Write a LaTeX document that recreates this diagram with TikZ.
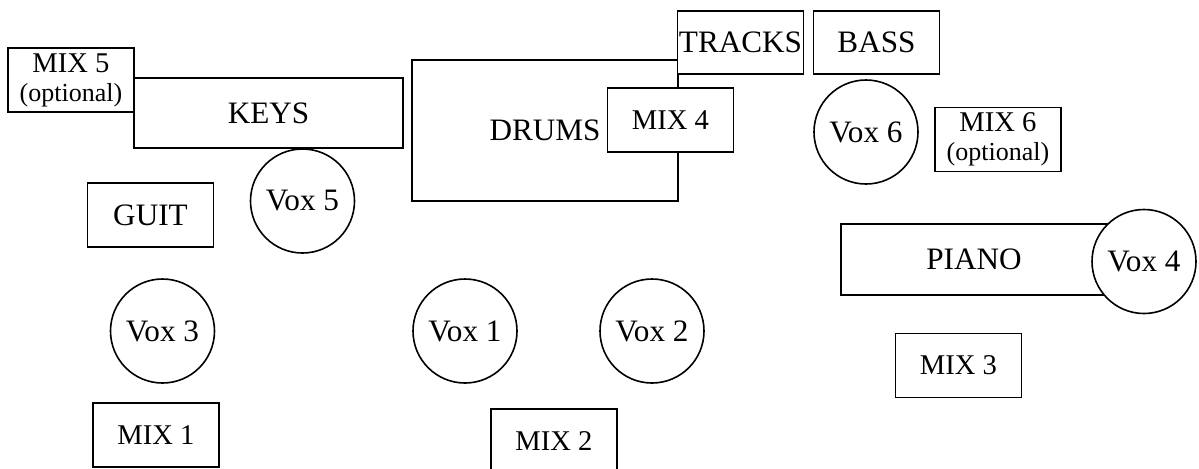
\documentclass[tikz,border=0pt]{standalone}
\usepackage{fontspec}
\setmainfont{Liberation Serif}
\newcommand{\bigfont}{\fontsize{15.6}{17}\selectfont}
\newcommand{\mixfont}{\fontsize{14.3}{14.5}\selectfont}
\newcommand{\optfont}{\fontsize{13}{14.5}\selectfont}

\begin{document}
\begin{tikzpicture}[x=0.5pt,y=-0.5pt,line width=0.8pt,
    box/.style={draw,fill=white,inner sep=0pt,minimum width=63pt,minimum height=32pt,font=\bigfont},
    mix/.style={box,font=\mixfont,align=center},
    vox/.style={draw,circle,fill=white,inner sep=0pt,minimum size=52pt,font=\bigfont}]
\useasboundingbox (0,0) rectangle (1199,468);

\node[mix] (mix5) at (71,80) {MIX 5\\{\optfont (optional)}};
\node[box,minimum width=134.5pt,minimum height=35pt] (keys) at (268.5,113) {KEYS};
\node[vox] (vox5) at (302.5,201) {Vox 5};
\node[box] (guit) at (150.5,215) {GUIT};

\node[box,minimum width=133pt,minimum height=70.5pt] (drums) at (545,130.5) {DRUMS};
\node[mix] (mix4) at (670.5,120) {MIX 4};
\node[box,minimum height=31.5pt] (tracks) at (740.5,42.5) {TRACKS};
\node[box,minimum height=31.5pt] (bass) at (876.5,42.5) {BASS};
\node[vox] (vox6) at (866,132) {Vox 6};
\node[mix] (mix6) at (998,139.5) {MIX 6\\{\optfont (optional)}};

\node[box,minimum width=133pt,minimum height=35.5pt] (piano) at (974,259.5) {PIANO};
\node[vox] (vox4) at (1144,261.5) {Vox 4};
\node[mix] (mix3) at (958.5,365.5) {MIX 3};

\foreach \n/\x in {3/162.5, 1/465, 2/652}
    \node[vox] (vox\n) at (\x,331) {Vox \n};

\node[mix] (mix1) at (156,435) {MIX 1};
\node[mix] (mix2) at (554,441) {MIX 2};

\end{tikzpicture}
\end{document}
